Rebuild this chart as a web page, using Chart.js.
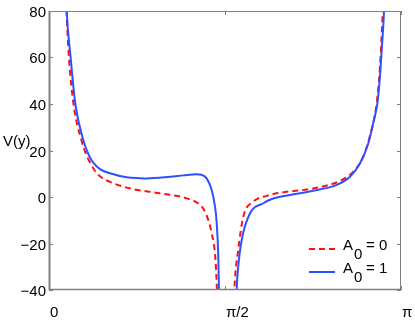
<!DOCTYPE html>
<html>
<head>
<meta charset="utf-8">
<script src="https://cdn.jsdelivr.net/npm/chart.js@4/dist/chart.umd.min.js"></script>
<style>
  html, body { margin: 0; padding: 0; background: #fff; }
  #wrap { width: 415px; height: 323px; }
</style>
</head>
<body>
<div id="wrap"><canvas id="myChart"></canvas></div>
<script>
// valores (y em radianos, V(y))
const redY = [0.140, 0.156, 0.178, 0.219, 0.292, 0.330, 0.366, 0.410, 0.455, 0.574, 0.752, 0.990, 1.229, 1.348, 1.392, 1.452, 1.486, 1.499, 1.515,
              1.571,
              1.640, 1.654, 1.689, 1.734, 1.823, 1.943, 2.062, 2.359, 2.597, 2.716, 2.805, 2.865, 2.925, 2.954, 2.978, 2.995];
const redV = [102, 80, 60, 40, 24, 18.5, 14.8, 11.3, 8.9, 5.9, 3.4, 1.6, -0.6, -3.4, -6.3, -15.6, -27, -40, -62,
              null,
              -60, -40, -22.8, -8.5, -2, 0.5, 1.8, 3.7, 6.9, 10.9, 17.3, 26.5, 40.5, 56, 79, 100];

const blueY = [0.140, 0.158, 0.193, 0.235, 0.306, 0.342, 0.366, 0.395, 0.455, 0.544, 0.693, 0.812, 0.872, 1.080, 1.200, 1.318, 1.360, 1.407, 1.452, 1.482, 1.497, 1.511, 1.517, 1.530,
               1.600,
               1.665, 1.675, 1.689, 1.720, 1.794, 1.913, 1.972, 2.062, 2.151, 2.359, 2.568, 2.686, 2.776, 2.850, 2.900, 2.930, 2.954, 2.969, 2.990, 3.005];
const blueV = [105, 80, 60, 40, 24.5, 19.5, 17, 14.8, 12, 10.2, 8.5, 8.1, 8.0, 8.7, 9.3, 9.8, 9.6, 8.0, 3.0, -4.2, -11.3, -25.7, -40, -70,
               null,
               -60, -40, -30, -18.5, -7, -2.7, -1.2, 0.1, 0.9, 2.7, 5.2, 8.7, 14.5, 23.1, 33.1, 40, 52, 63, 80, 105];

const seriesNames = ['0', '1'];
const xTicks = [0, Math.PI / 2, Math.PI];
const xTickLabels = ['0', 'π/2', 'π'];
const yTicks = [-40, -20, 0, 20, 40, 60, 80];

const FONT = '15px "Liberation Sans", Arial, Helvetica, sans-serif';
const RED = '#ff1010';
const BLUE = '#2f50ff';
const AXIS = '#808080';

function pts(xs, vs) {
    return xs.map((x, i) => ({ x: x, y: vs[i] }));
}

// desenha eixos, marcas, rótulos e legenda
const decor = {
    id: 'decor',
    afterDraw(chart) {
        const ctx = chart.ctx;
        const a = chart.chartArea;
        const sx = chart.scales.x, sy = chart.scales.y;
        ctx.save();
        ctx.strokeStyle = AXIS;
        ctx.lineWidth = 1;
        ctx.beginPath();
        ctx.moveTo(a.left, a.top + 0.5); ctx.lineTo(a.right, a.top + 0.5);
        ctx.moveTo(a.right - 0.5, a.top); ctx.lineTo(a.right - 0.5, a.bottom);
        ctx.stroke();
        ctx.lineWidth = 1.5;
        ctx.beginPath();
        ctx.moveTo(a.left, a.bottom - 0.5); ctx.lineTo(a.right, a.bottom - 0.5);
        ctx.stroke();
        ctx.lineWidth = 2;
        ctx.beginPath();
        ctx.moveTo(a.left + 0.5, a.top); ctx.lineTo(a.left + 0.5, a.bottom);
        ctx.stroke();

        ctx.lineWidth = 1;
        ctx.fillStyle = '#000';
        ctx.font = FONT;
        ctx.textAlign = 'right';
        ctx.textBaseline = 'alphabetic';
        yTicks.forEach(v => {
            const py = Math.round(sy.getPixelForValue(v)) + 0.5;
            ctx.beginPath();
            ctx.moveTo(a.left, py); ctx.lineTo(a.left + 4, py);
            ctx.moveTo(a.right, py); ctx.lineTo(a.right - 4, py);
            ctx.stroke();
            ctx.fillText(String(v).replace('-', '\u2212'), a.left - 3, py + 5.5);
        });

        ctx.textAlign = 'left';
        xTicks.forEach((v, i) => {
            const px = Math.round(sx.getPixelForValue(v)) + 0.5;
            ctx.beginPath();
            ctx.moveTo(px, a.bottom); ctx.lineTo(px, a.bottom - 4);
            ctx.moveTo(px, a.top); ctx.lineTo(px, a.top + 4);
            ctx.stroke();
            ctx.fillText(xTickLabels[i], px + 0.5, a.bottom + 27);
        });

        // rótulo do eixo y, na horizontal
        ctx.fillText('V(y)', 3, 146);

        // legenda
        const rows = [
            { color: RED, dash: [6, 4], y: 249, name: seriesNames[0] },
            { color: BLUE, dash: [], y: 272, name: seriesNames[1] }
        ];
        rows.forEach(r => {
            ctx.strokeStyle = r.color;
            ctx.lineWidth = 2;
            ctx.setLineDash(r.dash);
            ctx.beginPath();
            ctx.moveTo(309, r.y); ctx.lineTo(335, r.y);
            ctx.stroke();
            ctx.setLineDash([]);
            ctx.fillStyle = '#000';
            ctx.fillText('A', 343, r.y + 1);
            ctx.fillText('0', 354, r.y + 10);
            ctx.fillText('=', 366, r.y + 1);
            ctx.fillText(r.name, 379, r.y + 1);
        });
        ctx.restore();
    }
};

const myChart = new Chart(document.getElementById('myChart'), {
    type: 'line',
    data: {
        datasets: [{
            label: 'A0 = ' + seriesNames[0],
            data: pts(redY, redV),
            borderColor: RED,
            borderWidth: 2,
            borderDash: [6, 4],
            pointRadius: 0,
            cubicInterpolationMode: 'monotone',
            spanGaps: false,
            clip: 0,
            order: 2
        }, {
            label: 'A0 = ' + seriesNames[1],
            data: pts(blueY, blueV),
            borderColor: BLUE,
            borderWidth: 2,
            pointRadius: 0,
            cubicInterpolationMode: 'monotone',
            spanGaps: false,
            clip: 0,
            order: 1
        }]
    },
    options: {
        responsive: true,
        maintainAspectRatio: false,
        animation: false,
        layout: { padding: { left: 49, right: 14, top: 11, bottom: 33 } },
        plugins: { legend: { display: false }, tooltip: { enabled: false } },
        scales: {
            x: { type: 'linear', min: 0, max: Math.PI, display: false },
            y: { type: 'linear', min: -40, max: 80, display: false }
        }
    },
    plugins: [decor]
});
</script>
</body>
</html>
